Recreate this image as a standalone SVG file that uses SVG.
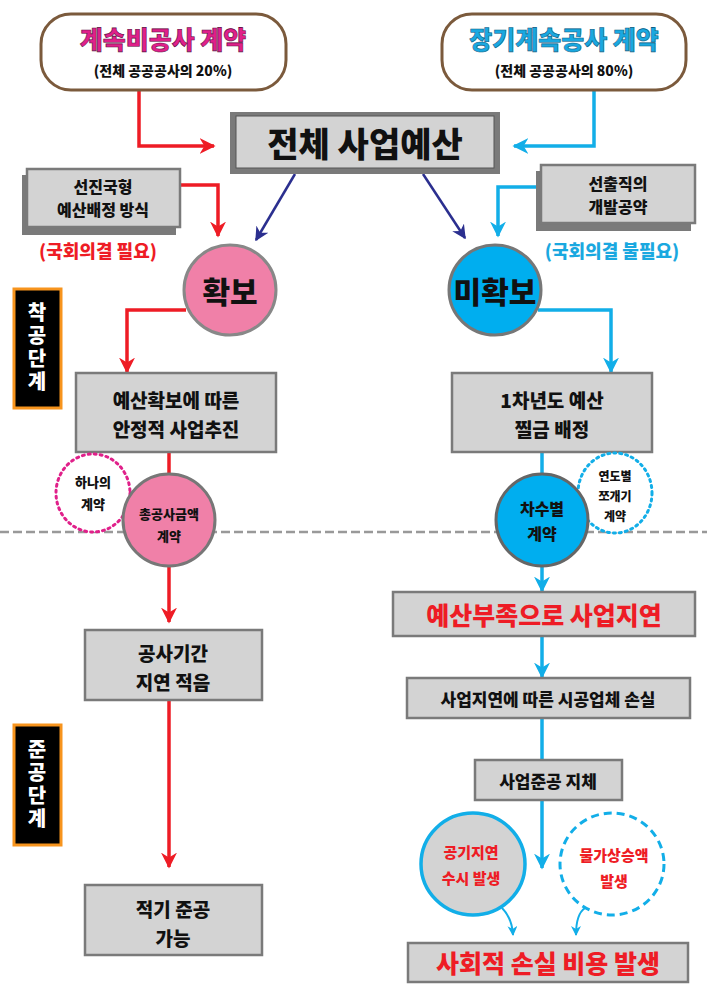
<svg xmlns="http://www.w3.org/2000/svg" width="707" height="1000" viewBox="0 0 707 1000">
<style>
text{font-family:"Noto Sans CJK KR","Noto Sans",sans-serif;font-weight:900;text-anchor:middle;dominant-baseline:central}
.vt{writing-mode:vertical-rl;text-orientation:upright;letter-spacing:3px;fill:#fff}
.box{fill:#d3d3d3;stroke:#7a7a7a;stroke-width:2.5}
.shadow{fill:#7a7a7a}
.k{fill:#111}
.r{fill:#ee1c25}
.c{fill:#1aa8e0}
.rl{stroke:#ee1c25;stroke-width:3.5;fill:none}
.bl{stroke:#12aee8;stroke-width:3.5;fill:none}
.dl{stroke:#2b2f8f;stroke-width:2.5;fill:none}
</style>
<defs>
<marker id="ab" viewBox="0 0 10 10" refX="9" refY="5" markerWidth="16" markerHeight="16" markerUnits="userSpaceOnUse" orient="auto"><path d="M0,0L10,5L0,10L3,5z" fill="#12aee8"/></marker>
<marker id="arr" viewBox="0 0 10 10" refX="9" refY="5" markerWidth="16" markerHeight="16" markerUnits="userSpaceOnUse" orient="auto"><path d="M0,0L10,5L0,10L3,5z" fill="#ee1c25"/></marker>
<marker id="ad" viewBox="0 0 10 10" refX="9" refY="5" markerWidth="14" markerHeight="14" markerUnits="userSpaceOnUse" orient="auto"><path d="M0,0L10,5L0,10L3,5z" fill="#2b2f8f"/></marker>
<marker id="as" viewBox="0 0 10 10" refX="9" refY="5" markerWidth="10" markerHeight="10" markerUnits="userSpaceOnUse" orient="auto"><path d="M0,0L10,5L0,10L3,5z" fill="#12aee8"/></marker>
</defs>
<rect width="707" height="1000" fill="#fff"/>
<line x1="0" y1="532" x2="707" y2="532" stroke="#999" stroke-width="2.5" stroke-dasharray="9,4"/>
<g id="connectors">
<polyline class="rl" points="139,90 139,146 214,146" marker-end="url(#arr)"/>
<polyline class="bl" points="594,90 594,146 514,146" marker-end="url(#ab)"/>
<polyline class="rl" points="180,185 218,185 218,236" marker-end="url(#arr)"/>
<polyline class="bl" points="536,187 498,187 498,236" marker-end="url(#ab)"/>
<line class="dl" x1="295" y1="174" x2="256" y2="240" marker-end="url(#ad)"/>
<line class="dl" x1="423" y1="174" x2="465" y2="238" marker-end="url(#ad)"/>
<polyline class="rl" points="186,310 127,310 127,372" marker-end="url(#arr)"/>
<polyline class="bl" points="538,310 611,310 611,372" marker-end="url(#ab)"/>
<line class="rl" x1="169" y1="452" x2="169" y2="475"/>
<line class="bl" x1="542" y1="452" x2="542" y2="475"/>
<line class="rl" x1="169" y1="566" x2="169" y2="622" marker-end="url(#arr)"/>
<line class="bl" x1="542" y1="566" x2="542" y2="591" marker-end="url(#ab)"/>
<line class="rl" x1="169" y1="700" x2="169" y2="867" marker-end="url(#arr)"/>
<line class="bl" x1="542" y1="636" x2="542" y2="677" marker-end="url(#ab)"/>
<line class="bl" x1="542" y1="718" x2="542" y2="760"/>
<line class="bl" x1="542" y1="800" x2="542" y2="868" marker-end="url(#ab)"/>
<path d="M502,908 Q512,918 513,935" stroke="#12aee8" stroke-width="2" fill="none" marker-end="url(#as)"/>
<path d="M585,908 Q576,914 576,935" stroke="#12aee8" stroke-width="2" fill="none" marker-end="url(#as)"/>
</g>
<g id="top-left">
<rect x="41" y="14" width="245" height="76" rx="30" fill="#fff" stroke="#7b5a3c" stroke-width="3"/>
<text x="163" y="38" font-size="25" fill="#e0208a" stroke="#5a1040" stroke-width="0.6">계속비공사 계약</text>
<text x="163" y="70" font-size="14" class="k">(전체 공공공사의 20%)</text>
</g>
<g id="top-right">
<rect x="442" y="14" width="244" height="76" rx="30" fill="#fff" stroke="#7b5a3c" stroke-width="3"/>
<text x="564" y="38" font-size="25" class="c" stroke="#0b5a80" stroke-width="0.6">장기계속공사 계약</text>
<text x="564" y="70" font-size="14" class="k">(전체 공공공사의 80%)</text>
</g>
<g id="budget">
<rect x="230" y="112" width="270" height="62" class="shadow"/>
<rect x="236" y="116" width="258" height="52" fill="#d3d3d3" stroke="#555" stroke-width="1"/>
<text x="365" y="142" font-size="34" class="k">전체 사업예산</text>
</g>
<g id="advanced">
<rect x="22" y="175" width="154" height="60" class="shadow"/>
<rect x="27" y="169" width="153" height="58" class="box"/>
<text x="103" y="186" font-size="16" class="k">선진국형</text>
<text x="103" y="209" font-size="16" class="k">예산배정 방식</text>
<text x="98" y="250" font-size="18" class="r">(국회의결 필요)</text>
</g>
<g id="elected">
<rect x="536" y="171" width="155" height="60" class="shadow"/>
<rect x="541" y="165" width="154" height="58" class="box"/>
<text x="618" y="183" font-size="16" class="k">선출직의</text>
<text x="618" y="206" font-size="16" class="k">개발공약</text>
<text x="612" y="250" font-size="18" class="c">(국회의결 불필요)</text>
</g>
<g id="secured">
<ellipse cx="230" cy="290" rx="46" ry="45" fill="#f080a8" stroke="#888" stroke-width="3"/>
<text x="230" y="290" font-size="30" class="k">확보</text>
</g>
<g id="unsecured">
<ellipse cx="495" cy="290" rx="46" ry="45" fill="#00aeef" stroke="#777" stroke-width="3"/>
<text x="495" y="290" font-size="30" class="k">미확보</text>
</g>
<g id="stage1">
<rect x="14" y="289" width="47" height="119" fill="#000" stroke="#f7941d" stroke-width="3"/>
<text x="37" y="348" font-size="20" class="vt">착공단계</text>
</g>
<g id="stage2">
<rect x="14" y="725" width="47" height="120" fill="#000" stroke="#f7941d" stroke-width="3"/>
<text x="37" y="785" font-size="20" class="vt">준공단계</text>
</g>
<g id="stable">
<rect x="76" y="373" width="200" height="79" class="box"/>
<text x="176" y="399" font-size="19" class="k">예산확보에 따른</text>
<text x="176" y="428" font-size="19" class="k">안정적 사업추진</text>
</g>
<g id="firstyear">
<rect x="452" y="373" width="200" height="79" class="box"/>
<text x="552" y="399" font-size="19" class="k">1차년도 예산</text>
<text x="552" y="428" font-size="19" class="k">찔금 배정</text>
</g>
<g id="one">
<ellipse cx="93" cy="493" rx="37" ry="39" fill="#fff" stroke="#e0208a" stroke-width="3" stroke-dasharray="2,4" stroke-linecap="round"/>
<text x="93" y="481" font-size="13" class="k">하나의</text>
<text x="93" y="503" font-size="13" class="k">계약</text>
</g>
<g id="total">
<ellipse cx="169" cy="520" rx="46" ry="46" fill="#f080a8" stroke="#777" stroke-width="3"/>
<text x="169" y="513" font-size="13" class="k">총공사금액</text>
<text x="169" y="535" font-size="13" class="k">계약</text>
</g>
<g id="yearly">
<ellipse cx="615" cy="493" rx="37" ry="40" fill="#fff" stroke="#12aee8" stroke-width="3" stroke-dasharray="2,4" stroke-linecap="round"/>
<text x="615" y="475" font-size="12" class="k">연도별</text>
<text x="615" y="495" font-size="12" class="k">쪼개기</text>
<text x="615" y="515" font-size="12" class="k">계약</text>
</g>
<g id="phase">
<ellipse cx="542" cy="520" rx="46" ry="46" fill="#00aeef" stroke="#666" stroke-width="3"/>
<text x="542" y="508" font-size="16" class="k">차수별</text>
<text x="542" y="533" font-size="16" class="k">계약</text>
</g>
<g id="lessdelay">
<rect x="85" y="630" width="177" height="70" class="box"/>
<text x="173" y="652" font-size="19" class="k">공사기간</text>
<text x="173" y="681" font-size="19" class="k">지연 적음</text>
</g>
<g id="ontime">
<rect x="85" y="885" width="177" height="70" class="box"/>
<text x="173" y="908" font-size="19" class="k">적기 준공</text>
<text x="173" y="937" font-size="19" class="k">가능</text>
</g>
<g id="shortage">
<rect x="393" y="592" width="302" height="44" class="box"/>
<text x="544" y="614" font-size="25" class="r">예산부족으로 사업지연</text>
</g>
<g id="loss">
<rect x="407" y="678" width="283" height="40" class="box"/>
<text x="548" y="698" font-size="17" class="k">사업지연에 따른 시공업체 손실</text>
</g>
<g id="late">
<rect x="475" y="760" width="147" height="40" class="box"/>
<text x="548" y="780" font-size="17" class="k">사업준공 지체</text>
</g>
<g id="delay">
<ellipse cx="473" cy="864" rx="52" ry="51" fill="#d3d3d3" stroke="#12aee8" stroke-width="3.5"/>
<text x="471" y="851" font-size="15" class="r">공기지연</text>
<text x="471" y="877" font-size="15" class="r">수시 발생</text>
</g>
<g id="price">
<ellipse cx="612" cy="864" rx="52" ry="51" fill="#fff" stroke="#12aee8" stroke-width="3" stroke-dasharray="8,5"/>
<text x="614" y="854" font-size="15" class="r">물가상승액</text>
<text x="614" y="880" font-size="15" class="r">발생</text>
</g>
<g id="social">
<rect x="408" y="943" width="280" height="39" class="box"/>
<text x="548" y="962" font-size="25" class="r">사회적 손실 비용 발생</text>
</g>
</svg>
